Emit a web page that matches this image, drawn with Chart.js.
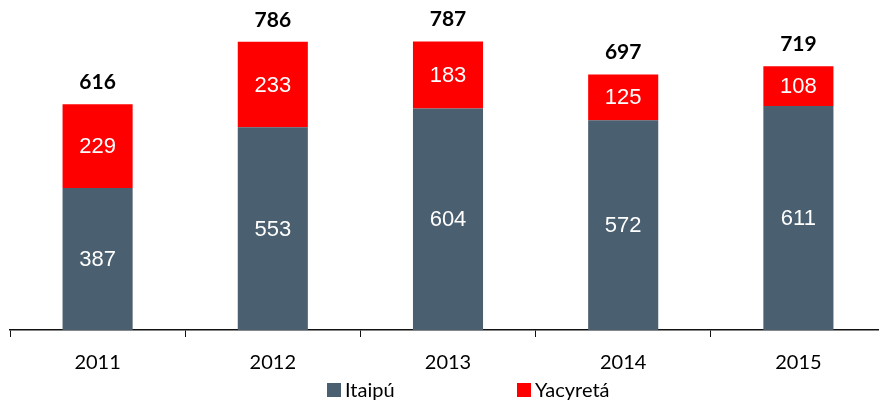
<!DOCTYPE html>
<html>
<head>
<meta charset="utf-8">
<script src="https://cdn.jsdelivr.net/npm/chart.js@4"></script>
<style>
    html, body { margin: 0; padding: 0; background: #fff; overflow: hidden; }
    #wrap { position: relative; width: 886px; height: 401px; }
</style>
</head>
<body>
<div id="wrap"><canvas id="myChart"></canvas></div>
<script>
const years = ['2011', '2012', '2013', '2014', '2015'];
const itaipu = [387, 553, 604, 572, 611];
const yacyreta = [229, 233, 183, 125, 108];
const totals = [616, 786, 787, 697, 719];

const seriesNames = ['Itaipú', 'Yacyretá'];
const seriesColors = ['#4a5f6f', '#ff0000'];

// labels inside the bars, totals on top and the legend row
const barLabels = {
    id: 'barLabels',
    afterDatasetsDraw(chart) {
        const ctx = chart.ctx;
        ctx.save();
        ctx.textAlign = 'center';
        ctx.textBaseline = 'middle';
        chart.data.datasets.forEach(function (ds, i) {
            const meta = chart.getDatasetMeta(i);
            meta.data.forEach(function (bar, j) {
                ctx.fillStyle = '#fff';
                ctx.font = '22px "Liberation Sans", Arial, sans-serif';
                ctx.fillText(ds.data[j], bar.x, (bar.y + bar.base) / 2 + 1);
            });
        });
        const last = chart.getDatasetMeta(chart.data.datasets.length - 1);
        last.data.forEach(function (bar, j) {
            ctx.fillStyle = '#000';
            ctx.font = 'bold 21px Lato, sans-serif';
            ctx.fillText(totals[j], bar.x, bar.y - 22);
        });

        // legend
        const legendX = [327, 517];
        ctx.textAlign = 'left';
        ctx.font = '20px Lato, sans-serif';
        chart.data.datasets.forEach(function (ds, i) {
            ctx.fillStyle = ds.backgroundColor;
            ctx.fillRect(legendX[i], 383, 14, 14);
            ctx.fillStyle = '#000';
            ctx.fillText(ds.label, legendX[i] + 18, 391);
        });
        ctx.restore();
    }
};

const ctx = document.getElementById('myChart');

const myChart = new Chart(ctx, {
    type: 'bar',
    data: {
        labels: years,
        datasets: [{
            label: seriesNames[0],
            data: itaipu,
            backgroundColor: seriesColors[0],
            barPercentage: 0.4,
            categoryPercentage: 1
        }, {
            label: seriesNames[1],
            data: yacyreta,
            backgroundColor: seriesColors[1],
            barPercentage: 0.4,
            categoryPercentage: 1
        }]
    },
    options: {
        responsive: true,
        maintainAspectRatio: false,
        animation: false,
        layout: {
            padding: {left: 10, right: 0, top: 0, bottom: 31}
        },
        plugins: {
            legend: {display: false},
            tooltip: {enabled: false}
        },
        scales: {
            x: {
                stacked: true,
                afterFit: function (scale) {
                    scale.height = 40;
                },
                grid: {
                    display: true,
                    offset: true,
                    drawOnChartArea: false,
                    drawTicks: true,
                    tickLength: 7,
                    color: '#111'
                },
                border: {display: true, color: '#111', width: 1.5},
                ticks: {
                    color: '#000',
                    padding: 14,
                    font: {family: 'Lato, sans-serif', size: 20}
                }
            },
            y: {
                stacked: true,
                display: false,
                min: 0,
                max: 900
            }
        }
    },
    plugins: [barLabels]
});
</script>
</body>
</html>
